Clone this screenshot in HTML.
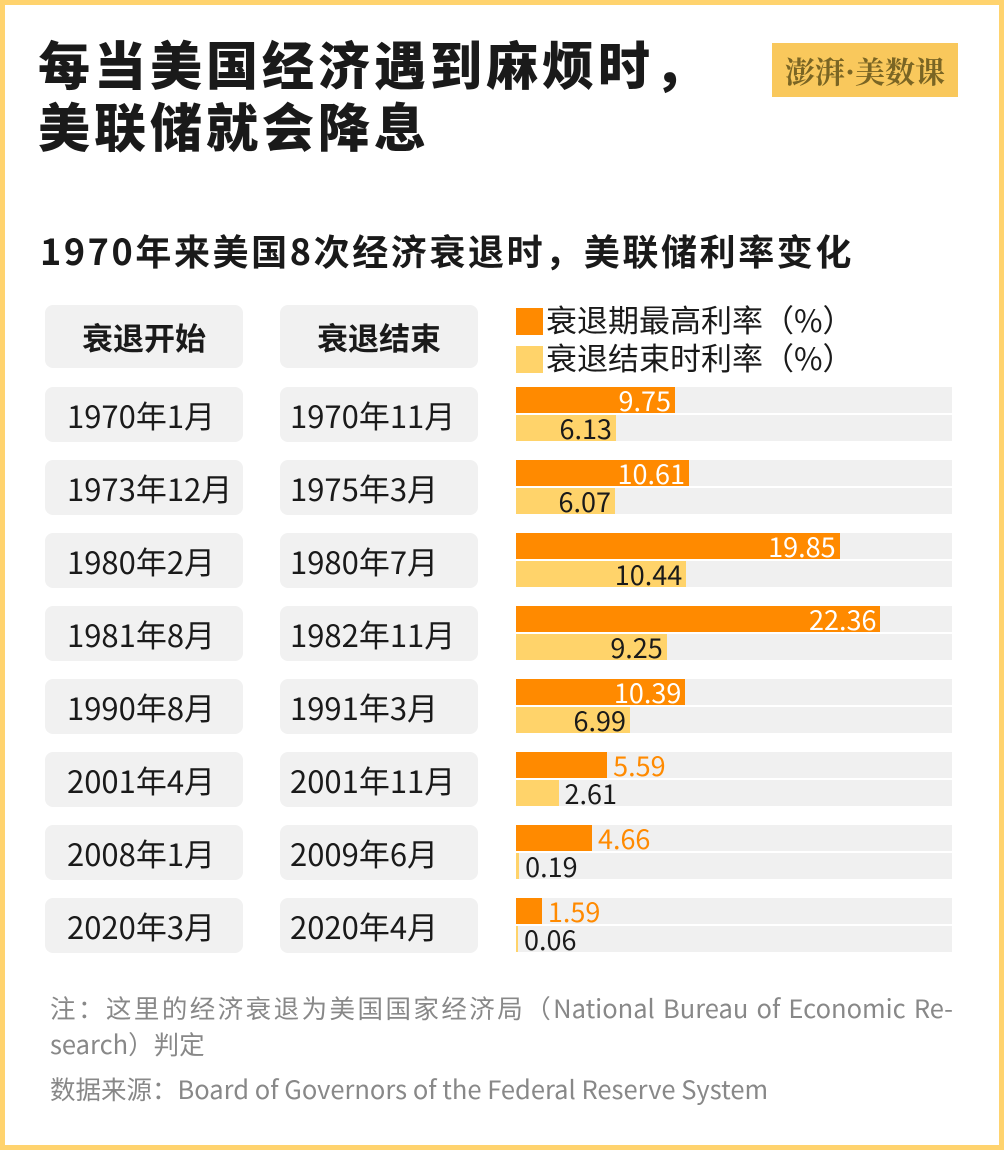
<!DOCTYPE html>
<html><head><meta charset="utf-8"><style>
*{margin:0;padding:0;box-sizing:border-box}
body{width:1004px;height:1150px;background:#fff;position:relative;overflow:hidden;font-family:"Noto Sans CJK SC","Liberation Sans",sans-serif;color:#1a1a1a}
.frame{position:absolute;left:0;top:0;width:1004px;height:1150px;border:5px solid #FFD36E}
.t1{position:absolute;left:38px;top:32px;font-size:52px;font-weight:900;line-height:62px;letter-spacing:4px}
.logo{position:absolute;left:772px;top:43px;width:186px;height:54px;background:#F9C85C;color:#7a6524;font-size:30px;line-height:54px;text-align:center;font-family:"Noto Serif CJK SC",serif;font-weight:bold}
.t2{position:absolute;left:40px;top:225px;font-size:36px;font-weight:bold;line-height:50px;letter-spacing:2.6px}
.cell{position:absolute;width:198px;height:55px;background:#f1f1f1;border-radius:8px;font-size:31px;line-height:55px;padding-left:22px}
.c2{padding-left:10px}
.hd{font-weight:bold;text-align:center;padding-left:0;height:63px;line-height:63px}
.bg{position:absolute;left:516px;width:436px;height:26px;background:#f0f0f0}
.bar{position:absolute;left:516px;height:26px}
.o{background:#FF8A00}.y{background:#FFD36A}
.lab{position:absolute;font-size:27px;line-height:26px}
.leg{position:absolute;left:516px;font-size:31px;line-height:34px}
.leg span{display:inline-block;width:27px;height:27px;vertical-align:-3px;margin-right:3px}
.ft{position:absolute;left:50px;color:#888;font-size:25.5px;line-height:36px;width:904px;white-space:nowrap}
</style></head><body>
<div class="frame"></div>
<div class="t1">每当美国经济遇到麻烦时，<br>美联储就会降息</div>
<div class="logo">澎湃·美数课</div>
<div class="t2">1970年来美国8次经济衰退时，美联储利率变化</div>
<div class="cell hd" style="left:45px;top:305px">衰退开始</div>
<div class="cell hd" style="left:280px;top:305px">衰退结束</div>
<div class="leg" style="top:302px"><span class="o"></span>衰退期最高利率（%）</div>
<div class="leg" style="top:340px"><span class="y"></span>衰退结束时利率（%）</div>
<div id="rows"></div>
<div class="ft" style="top:990px;width:903px;white-space:normal;text-align:justify;text-align-last:justify">注：这里的经济衰退为美国国家经济局（National Bureau of Economic Re-</div>
<div class="ft" style="top:1026px">search）判定</div>
<div class="ft" style="top:1071px">数据来源：Board of Governors of the Federal Reserve System</div>
<script>
var d=[["1970年1月","1970年11月",9.75,6.13],["1973年12月","1975年3月",10.61,6.07],["1980年2月","1980年7月",19.85,10.44],["1981年8月","1982年11月",22.36,9.25],["1990年8月","1991年3月",10.39,6.99],["2001年4月","2001年11月",5.59,2.61],["2008年1月","2009年6月",4.66,0.19],["2020年3月","2020年4月",1.59,0.06]];
var h="",s=16.3;
d.forEach(function(r,i){var t=387+i*73;
h+='<div class="cell" style="left:45px;top:'+t+'px">'+r[0]+'</div><div class="cell c2" style="left:280px;top:'+t+'px">'+r[1]+'</div>';
[[r[2],t,'o'],[r[3],t+28,'y']].forEach(function(b){var w=Math.max(b[0]*s,2),e=516+w;
h+='<div class="bg" style="top:'+b[1]+'px"></div><div class="bar '+b[2]+'" style="top:'+b[1]+'px;width:'+w+'px"></div>';
var inside=w>95,col=b[2]=='o'?(inside?'#fff':'#FF8A00'):'#1a1a1a';
if(inside)h+='<div class="lab" style="top:'+b[1]+'px;right:'+(1004-e+4)+'px;color:'+col+'">'+b[0].toFixed(2)+'</div>';
else h+='<div class="lab" style="top:'+b[1]+'px;left:'+(e+6)+'px;color:'+col+'">'+b[0].toFixed(2)+'</div>';});});
document.getElementById('rows').innerHTML=h;
</script>
</body></html>
